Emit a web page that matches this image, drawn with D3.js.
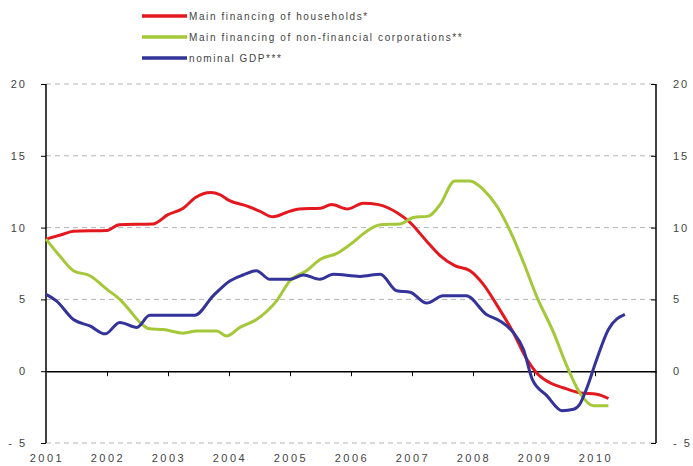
<!DOCTYPE html>
<html>
<head>
<meta charset="utf-8">
<script src="https://cdn.jsdelivr.net/npm/d3@7"></script>
<style>
  body { margin: 0; background: #fff; }
  svg text { font-family: Arial, "Liberation Sans", sans-serif; fill: #444; }
</style>
</head>
<body>
<svg width="693" height="466"></svg>
<script>
// year labels and value ticks
var years = [2001, 2002, 2003, 2004, 2005, 2006, 2007, 2008, 2009, 2010];
var yTicks = [-5, 0, 5, 10, 15, 20];

// series: [decimal year, % y-o-y]
var households = [[2001.0,9.2],[2001.25,9.5],[2001.45,9.75],[2002.0,9.8],[2002.2,10.2],[2002.75,10.25],[2003.0,10.9],[2003.25,11.35],[2003.45,12.1],[2003.7,12.45],[2003.85,12.3],[2004.0,11.9],[2004.3,11.5],[2004.5,11.15],[2004.72,10.75],[2005.0,11.15],[2005.15,11.3],[2005.5,11.35],[2005.68,11.6],[2005.95,11.3],[2006.2,11.7],[2006.45,11.6],[2006.75,11.05],[2006.97,10.35],[2007.24,9.05],[2007.46,8.05],[2007.7,7.35],[2007.95,7.0],[2008.17,6.05],[2008.4,4.55],[2008.66,2.7],[2008.88,0.85],[2009.04,-0.1],[2009.26,-0.8],[2009.48,-1.15],[2009.75,-1.5],[2010.03,-1.6],[2010.22,-1.9]];
var corporations = [[2001.0,9.2],[2001.23,8.0],[2001.45,7.0],[2001.72,6.65],[2002.0,5.7],[2002.21,5.0],[2002.38,4.2],[2002.54,3.4],[2002.7,2.95],[2002.92,2.9],[2003.25,2.65],[2003.47,2.8],[2003.8,2.8],[2003.96,2.45],[2004.18,3.05],[2004.45,3.6],[2004.78,4.9],[2005.0,6.3],[2005.27,7.0],[2005.5,7.8],[2005.77,8.2],[2005.98,8.8],[2006.26,9.75],[2006.48,10.2],[2006.8,10.25],[2007.02,10.7],[2007.27,10.8],[2007.46,11.6],[2007.7,13.25],[2007.95,13.25],[2008.17,12.65],[2008.39,11.5],[2008.61,9.75],[2008.83,7.55],[2009.04,5.25],[2009.32,2.7],[2009.54,0.35],[2009.75,-1.5],[2009.97,-2.4],[2010.22,-2.4]];
var gdp = [[2001.0,5.35],[2001.17,4.9],[2001.45,3.6],[2001.72,3.15],[2001.97,2.6],[2002.21,3.4],[2002.49,3.05],[2002.7,3.9],[2003.44,3.9],[2003.74,5.25],[2004.02,6.3],[2004.23,6.7],[2004.45,7.0],[2004.67,6.4],[2005.0,6.4],[2005.22,6.7],[2005.49,6.4],[2005.71,6.75],[2006.15,6.6],[2006.48,6.75],[2006.75,5.6],[2006.97,5.5],[2007.24,4.75],[2007.51,5.25],[2007.89,5.25],[2008.22,3.95],[2008.44,3.5],[2008.66,2.7],[2008.83,1.5],[2008.97,-0.55],[2009.21,-1.7],[2009.46,-2.75],[2009.65,-2.65],[2009.75,-2.3],[2009.86,-1.25],[2010.03,0.85],[2010.22,2.9],[2010.49,3.95]];

var seriesNames = ["Main financing of households*", "Main financing of non-financial corporations**", "nominal GDP***"];
var seriesColors = ["#e3191f", "#a5c83a", "#33339a"];
var seriesData = [households, corporations, gdp];

var svg = d3.select("svg");
// plot box (pixels)
var plot = { left: 46, right: 656, top: 84, bottom: 443 };

var x = d3.scaleLinear().domain([2001, 2011]).range([plot.left, plot.right]);
var y = d3.scaleLinear().domain([-5, 20]).range([plot.bottom, plot.top]);

// plain hyphen for negatives, like the original
var fmt = function (d) { return d < 0 ? "- " + Math.abs(d) : String(d); };

// dashed gridlines
svg.append("g").selectAll("line").data(yTicks.filter(function (d) { return d !== 0; }))
    .enter().append("line")
    .attr("x1", plot.left).attr("x2", plot.right)
    .attr("y1", function (d) { return y(d); }).attr("y2", function (d) { return y(d); })
    .attr("stroke", "#b4b4b4").attr("stroke-width", 1).attr("stroke-dasharray", "5,4");

// left axis, ticks point outward
var leftAxis = d3.axisLeft(y).tickValues(yTicks).tickSize(5).tickPadding(14).tickFormat(fmt);
var gl = svg.append("g").attr("transform", "translate(" + plot.left + ",0)").call(leftAxis);
// right axis, ticks point inward
var rightAxis = d3.axisRight(y).tickValues(yTicks).tickSize(0).tickPadding(17).tickFormat(fmt);
var gr = svg.append("g").attr("transform", "translate(" + plot.right + ",0)").call(rightAxis);
gr.selectAll(".tick").append("line").attr("x1", -5).attr("x2", 0);

[gl, gr].forEach(function (g) {
    g.select(".domain").remove();
    g.selectAll(".tick line").attr("stroke", "#000");
    g.selectAll("text").style("font-size", "11px").style("letter-spacing", "2px").attr("fill", "#444");
});
svg.append("line").attr("x1", plot.left).attr("x2", plot.left).attr("y1", plot.top).attr("y2", plot.bottom).attr("stroke", "#000").attr("stroke-width", 1.5);
svg.append("line").attr("x1", plot.right).attr("x2", plot.right).attr("y1", plot.top).attr("y2", plot.bottom).attr("stroke", "#000").attr("stroke-width", 1.5);

// zero line with year ticks
var zeroAxis = d3.axisBottom(x).tickValues(d3.range(2002, 2011)).tickSize(5).tickSizeOuter(0).tickFormat("");
var gz = svg.append("g").attr("transform", "translate(0," + y(0) + ")").call(zeroAxis);
gz.select(".domain").attr("stroke", "#000").attr("stroke-width", 1.5);
gz.selectAll(".tick line").attr("stroke", "#000");

// year labels under the plot
svg.append("g").selectAll("text").data(years).enter().append("text")
    .attr("x", function (d) { return x(d) + 1; })
    .attr("y", 462)
    .attr("text-anchor", "middle")
    .style("font-size", "11px").style("letter-spacing", "2.5px")
    .text(function (d) { return d; });

// lines
var line = d3.line()
    .x(function (d) { return x(d[0]); })
    .y(function (d) { return y(d[1]); })
    .curve(d3.curveMonotoneX);

svg.append("g").selectAll("path").data(seriesData).enter().append("path")
    .attr("d", line)
    .attr("fill", "none")
    .attr("stroke", function (d, i) { return seriesColors[i]; })
    .attr("stroke-width", 3)
    .attr("stroke-linejoin", "round");

// legend
var lg = svg.append("g").selectAll("g").data(seriesNames).enter().append("g")
    .attr("transform", function (d, i) { return "translate(142," + (16 + i * 21) + ")"; });
lg.append("line").attr("x1", 0).attr("x2", 45).attr("y1", 0).attr("y2", 0)
    .attr("stroke", function (d, i) { return seriesColors[i]; }).attr("stroke-width", 3.5);
lg.append("text").attr("x", 47).attr("y", 4)
    .style("font-size", "10px").style("letter-spacing", "1.6px")
    .text(function (d) { return d; });
</script>
</body>
</html>
